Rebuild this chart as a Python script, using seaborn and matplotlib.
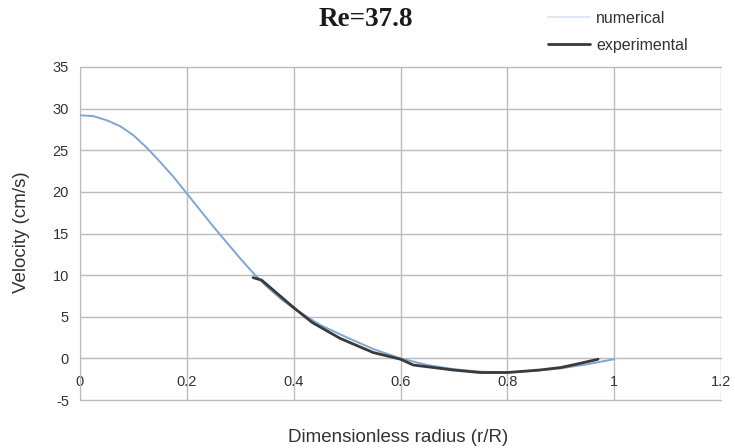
import matplotlib
matplotlib.use("Agg")
import matplotlib.pyplot as plt
import seaborn as sns
import pandas as pd
from matplotlib.lines import Line2D

# Data
num_r = [0.0, 0.025, 0.05, 0.075, 0.1, 0.125, 0.15, 0.175, 0.2, 0.225, 0.25, 0.275,
         0.3, 0.325, 0.35, 0.375, 0.4, 0.45, 0.5, 0.55, 0.6, 0.65, 0.7, 0.75, 0.8,
         0.85, 0.9, 0.95, 1.0]
num_v = [29.2, 29.1, 28.6, 27.9, 26.8, 25.3, 23.6, 21.8, 19.8, 17.8, 15.8, 13.9,
         12.0, 10.2, 8.6, 7.2, 6.0, 4.0, 2.5, 1.1, 0.0, -0.8, -1.3, -1.6, -1.7,
         -1.5, -1.2, -0.7, -0.1]
exp_r = [0.324, 0.34, 0.4, 0.435, 0.487, 0.549, 0.6, 0.624, 0.699, 0.749, 0.8,
         0.86, 0.9, 0.936, 0.97]
exp_v = [9.7, 9.4, 6.1, 4.3, 2.4, 0.7, -0.1, -0.8, -1.4, -1.7, -1.7, -1.4, -1.1,
         -0.6, -0.1]
x_ticks = [0, 0.2, 0.4, 0.6, 0.8, 1.0, 1.2]
x_tick_labels = ["0", "0.2", "0.4", "0.6", "0.8", "1", "1.2"]
y_ticks = [-5, 0, 5, 10, 15, 20, 25, 30, 35]

sns.set_style("white")
plt.rcParams['font.family'] = ['Liberation Sans', 'DejaVu Sans']
plt.rcParams['axes.unicode_minus'] = False

fig = plt.figure(figsize=(7.35, 4.48), dpi=100)
ax = fig.add_axes([80/735, 1-400/448, (721-80)/735, (400-67)/448])

df_num = pd.DataFrame({"r": num_r, "v": num_v})
df_exp = pd.DataFrame({"r": exp_r, "v": exp_v})
sns.lineplot(data=df_num, x="r", y="v", ax=ax, color="#7ea6d3", linewidth=1.4,
             sort=False, zorder=3)
sns.lineplot(data=df_exp, x="r", y="v", ax=ax, color="#3a3a3a", linewidth=2.0,
             sort=False, zorder=4)

ax.set_xlim(0, 1.2)
ax.set_ylim(-5, 35)
ax.set_xticks(x_ticks)
ax.set_xticklabels(x_tick_labels)
ax.set_yticks(y_ticks)
ax.grid(True, color="#bcbcbc", linewidth=1.0)
for gl in ax.get_xgridlines() + ax.get_ygridlines():
    gl.set_clip_on(False)
ax.set_axisbelow(True)
for s in ["top", "right"]:
    ax.spines[s].set_visible(False)
ax.spines["left"].set_color("#bcbcbc")
ax.spines["bottom"].set_color("#bcbcbc")
ax.spines["bottom"].set_position(("data", 0))
ax.tick_params(axis="y", colors="#bcbcbc", labelcolor="#333333", labelsize=10.5,
               length=5, direction="out", pad=3)
ax.tick_params(axis="x", colors="#bcbcbc", labelcolor="#333333", labelsize=10.5,
               length=4, direction="inout", pad=10)
ax.set_xlabel("")
ax.set_ylabel("")

fig.text(398/735, 1-437/448, "Dimensionless radius (r/R)", ha="center", va="center",
         fontsize=13.5, color="#333333")
fig.text(22/735, 1-232/448, "Velocity (cm/s)", ha="center", va="center",
         rotation=90, fontsize=13.5, color="#333333")
fig.text(366/735, 1-20/448, "Re=37.8", ha="center", va="center", fontsize=19.5,
         fontweight="bold", family=["Liberation Serif", "DejaVu Serif"], color="#1a1a1a")

handles = [Line2D([], [], color="#dde8f4", linewidth=1.4),
           Line2D([], [], color="#3a3a3a", linewidth=2.0)]
fig.legend(handles, ["numerical", "experimental"], loc="center left",
           bbox_to_anchor=(534/735, 1-32/448), frameon=False, fontsize=11.5,
           handlelength=2.6, handletextpad=0.4, labelspacing=0.75,
           labelcolor="#333333")

fig.savefig("out.png", dpi=100)
